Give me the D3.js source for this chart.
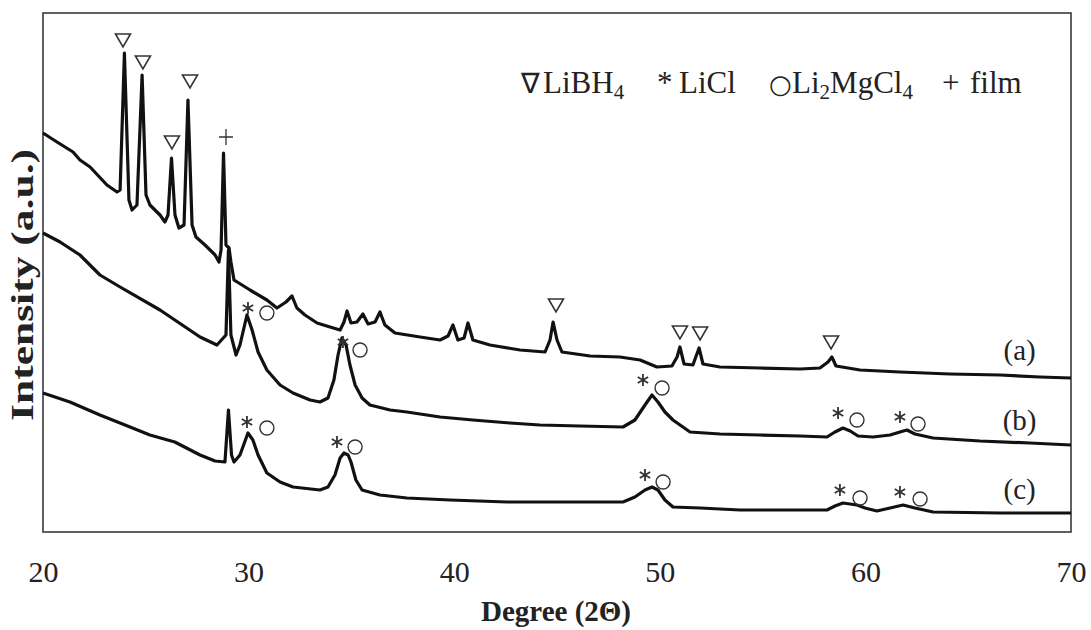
<!DOCTYPE html>
<html><head><meta charset="utf-8">
<script src="https://cdn.jsdelivr.net/npm/d3@7"></script>
<style>
body{margin:0;background:#fff;}
svg{display:block;font-family:"Liberation Serif","Times New Roman",serif;}
</style></head><body>
<svg id="chart" width="1091" height="630"></svg>
<script>
// ---- data (2θ in degrees, intensity in arbitrary units) ----
const thetaA = [20.0,20.68,21.46,21.8,22.29,23.11,23.6,23.75,23.96,24.18,24.33,24.57,24.82,25.01,25.2,25.69,25.93,26.08,26.25,26.42,26.61,26.86,27.05,27.25,27.44,27.88,28.37,28.56,28.66,28.78,28.9,29.05,29.14,29.29,30.07,30.89,31.38,31.82,32.11,32.35,32.74,33.33,33.96,34.45,34.64,34.79,34.98,35.27,35.56,35.81,36.15,36.39,36.63,37.12,38.34,39.31,39.7,39.94,40.18,40.48,40.67,40.91,41.74,43.2,44.42,44.66,44.81,45.0,45.24,46.61,48.06,49.04,49.86,50.59,50.84,50.98,51.18,51.61,51.91,52.1,52.93,54.87,56.82,57.79,58.18,58.37,58.57,59.74,61.68,64.11,66.55,68.49,70.0];
const intensityA = [399,390,380,372,365,347,340,342,479,332,322,327,457,337,327,317,310,317,374,317,304,307,432,307,295,287,277,270,282,379,287,284,270,252,242,232,224,230,236,224,217,209,205,202,210,221,209,210,218,208,210,220,207,199,195,192,196,207,192,194,209,192,187,182,180,192,210,192,180,176,175,172,165,166,175,185,168,167,184,168,165,164,163,164,170,175,166,162,160,158,157,155,154];

const thetaB = [20.0,20.83,21.8,22.77,23.75,25.69,27.64,28.46,28.9,29.02,29.14,29.39,29.58,29.92,30.17,30.46,30.89,31.53,32.16,32.99,33.47,33.86,34.15,34.35,34.54,34.74,34.93,35.18,35.52,35.9,36.88,37.7,39.31,40.91,42.71,44.17,46.12,48.21,48.79,49.28,49.62,49.91,50.25,50.64,51.47,52.93,54.87,56.82,58.13,58.52,58.91,59.26,59.64,60.37,61.2,61.68,62.02,62.41,63.29,65.57,68.0,70.0];
const intensityB = [299,290,277,257,245,222,195,187,197,282,197,177,187,217,202,180,162,147,139,132,130,134,152,177,194,187,167,147,134,127,122,120,115,112,109,107,106,105,112,127,137,130,120,112,100,98,97,96,95,100,104,101,96,95,97,100,102,98,94,91,89,87];

const thetaC = [20.0,21.31,22.77,23.99,25.2,26.41,27.64,28.37,28.85,29.02,29.17,29.29,29.58,29.97,30.21,30.46,30.89,31.53,32.16,33.47,33.86,34.2,34.45,34.64,34.84,34.98,35.22,35.52,36.39,37.7,39.8,42.57,45.15,48.21,48.79,49.28,49.62,49.91,50.25,50.64,51.96,53.9,56.82,58.13,58.52,58.91,59.59,59.98,60.56,61.2,61.83,62.41,63.29,66.55,70.0];
const intensityC = [139,130,117,107,97,90,77,71,70,122,77,70,77,99,92,77,59,50,45,42,45,57,74,79,77,70,52,42,37,34,32,30,30,30,35,42,45,42,32,25,24,22,22,22,26,29,27,24,21,24,27,24,20,19,19];

const xTicks = [20, 30, 40, 50, 60, 70];
const sampleLabels = ["(a)", "(b)", "(c)"];
const sampleLabelTheta = [67.5, 67.5, 67.5];
const sampleLabelIntensity = [182, 112, 43];

// phase markers: [2θ, intensity]
const libh4Marks = [[23.89,492],[24.86,470],[26.27,390],[27.15,451],[44.95,227],[50.98,200],[51.96,199],[58.33,190]];
const filmMarks = [[28.9,395]];
const liclMarks = [[29.97,224],[34.59,190],[49.18,152],[58.67,119],[61.68,115],
                   [29.92,110],[34.3,90],[49.28,57],[58.76,42],[61.68,40]];
const li2mgcl4Marks = [[30.89,219],[35.42,182],[50.11,144],[59.59,112],[62.56,108],
                       [30.89,104],[35.18,85],[50.16,50],[59.74,34],[62.66,33]];

// ---- drawing ----
const svg = d3.select("#chart");
const plot = {left: 43, top: 13, right: 1071, bottom: 532};
const x = d3.scaleLinear().domain([20, 70]).range([plot.left, plot.right]);
const y = d3.scaleLinear().domain([0, 519]).range([plot.bottom, plot.top]);

svg.append("rect").attr("x", plot.left).attr("y", plot.top)
  .attr("width", plot.right - plot.left).attr("height", plot.bottom - plot.top)
  .attr("fill", "none").attr("stroke", "#3a3a3a").attr("stroke-width", 1.6);

const ax = svg.append("g").attr("transform", `translate(0,${plot.bottom})`)
  .call(d3.axisBottom(x).tickValues(xTicks).tickSize(0).tickPadding(29).tickFormat(d3.format("d")));
ax.select(".domain").remove();
ax.attr("font-family", "'Liberation Serif','Times New Roman',serif").attr("font-size", 30);
ax.selectAll("text").attr("fill", "#222");

const line = d3.line().x(d => x(d[0])).y(d => y(d[1]));
[[thetaA, intensityA], [thetaB, intensityB], [thetaC, intensityC]].forEach(([t, v]) => {
  svg.append("path").datum(d3.zip(t, v)).attr("d", line)
    .attr("fill", "none").attr("stroke", "#111").attr("stroke-width", 3.2)
    .attr("stroke-linejoin", "round");
});

const mk = svg.append("g").attr("fill", "none").attr("stroke", "#333");
// downward open triangles
mk.selectAll(".tri").data(libh4Marks).join("path")
  .attr("d", d => { const cx = x(d[0]), cy = y(d[1]); return `M${cx-7.5},${cy-6} L${cx+7.5},${cy-6} L${cx},${cy+7} Z`; })
  .attr("stroke-width", 1.6);
// plus
mk.selectAll(".plus").data(filmMarks).join("path")
  .attr("d", d => { const cx = x(d[0]), cy = y(d[1]); return `M${cx-7},${cy} H${cx+7} M${cx},${cy-8} V${cy+8}`; })
  .attr("stroke-width", 1.3);
// asterisks
mk.selectAll(".star").data(liclMarks).join("path")
  .attr("d", d => {
    const cx = x(d[0]), cy = y(d[1]), r = 6;
    let p = "";
    [90, 30, 150].forEach(a => { const rad = a * Math.PI / 180, dx = r * Math.cos(rad), dy = r * Math.sin(rad);
      p += `M${cx-dx},${cy+dy} L${cx+dx},${cy-dy} `; });
    return p; })
  .attr("stroke-width", 1.8);
// circles
mk.selectAll(".circ").data(li2mgcl4Marks).join("circle")
  .attr("cx", d => x(d[0])).attr("cy", d => y(d[1])).attr("r", 7)
  .attr("stroke-width", 1.4);

// sample labels
svg.selectAll(".slab").data(sampleLabels).join("text")
  .attr("x", (d, i) => x(sampleLabelTheta[i])).attr("y", (d, i) => y(sampleLabelIntensity[i]))
  .attr("dy", "0.35em").attr("text-anchor", "middle").attr("font-size", 29).attr("fill", "#222")
  .text(d => d);

// legend
const lg = svg.append("text").attr("y", 93).attr("font-size", 31).attr("fill", "#222");
lg.append("tspan").attr("x", 521).attr("font-size", 28).attr("font-family", "'DejaVu Sans',sans-serif").text("∇");
lg.append("tspan").attr("x", 543).text("LiBH");
lg.append("tspan").attr("font-size", 21).attr("dy", 6).text("4");
lg.append("tspan").attr("x", 657).attr("dy", -6).text("*");
lg.append("tspan").attr("x", 679).text("LiCl");
lg.append("tspan").attr("x", 769).attr("font-size", 26).attr("font-family", "'DejaVu Sans',sans-serif").text("○");
lg.append("tspan").attr("x", 792).text("Li");
lg.append("tspan").attr("font-size", 21).attr("dy", 6).text("2");
lg.append("tspan").attr("dy", -6).text("MgCl");
lg.append("tspan").attr("font-size", 21).attr("dy", 6).text("4");
lg.append("tspan").attr("x", 942).attr("dy", -6).text("+");
lg.append("tspan").attr("x", 970).text("film");

// axis titles
svg.append("text").attr("x", 556).attr("y", 621).attr("text-anchor", "middle")
  .attr("font-size", 29).attr("font-weight", "bold").attr("fill", "#222").text("Degree (2Θ)");
svg.append("text").attr("transform", "translate(33,285) rotate(-90)").attr("text-anchor", "middle")
  .attr("font-size", 32).attr("font-weight", "bold").attr("fill", "#222")
  .attr("textLength", 272).attr("lengthAdjust", "spacingAndGlyphs").text("Intensity (a.u.)");
</script>
</body></html>
